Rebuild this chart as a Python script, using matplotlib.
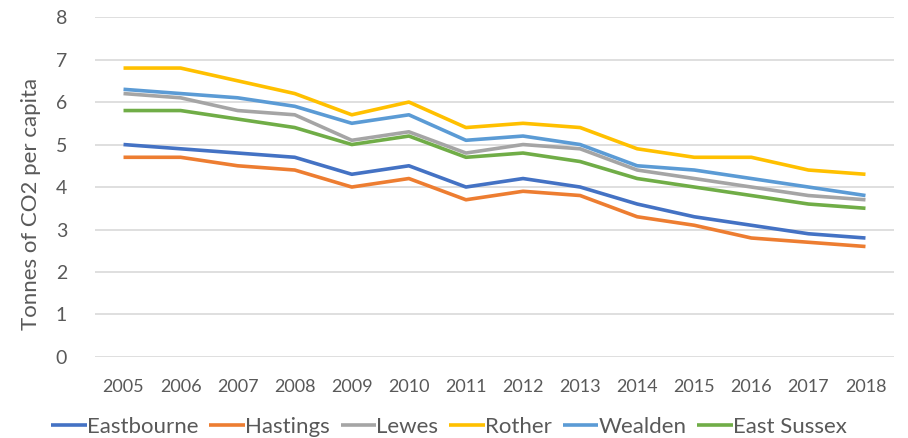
import matplotlib.pyplot as plt

years = [str(y) for y in range(2005, 2019)]

eastbourne = [5.0, 4.9, 4.8, 4.7, 4.3, 4.5, 4.0, 4.2, 4.0, 3.6, 3.3, 3.1, 2.9, 2.8]
hastings = [4.7, 4.7, 4.5, 4.4, 4.0, 4.2, 3.7, 3.9, 3.8, 3.3, 3.1, 2.8, 2.7, 2.6]
lewes = [6.2, 6.1, 5.8, 5.7, 5.1, 5.3, 4.8, 5.0, 4.9, 4.4, 4.2, 4.0, 3.8, 3.7]
rother = [6.8, 6.8, 6.5, 6.2, 5.7, 6.0, 5.4, 5.5, 5.4, 4.9, 4.7, 4.7, 4.4, 4.3]
wealden = [6.3, 6.2, 6.1, 5.9, 5.5, 5.7, 5.1, 5.2, 5.0, 4.5, 4.4, 4.2, 4.0, 3.8]
east_sussex = [5.8, 5.8, 5.6, 5.4, 5.0, 5.2, 4.7, 4.8, 4.6, 4.2, 4.0, 3.8, 3.6, 3.5]

series = [
    ("Eastbourne", eastbourne, "#4472C4"),
    ("Hastings", hastings, "#ED7D31"),
    ("Lewes", lewes, "#A5A5A5"),
    ("Rother", rother, "#FFC000"),
    ("Wealden", wealden, "#5B9BD5"),
    ("East Sussex", east_sussex, "#70AD47"),
]

plt.rcParams['font.family'] = ['Lato', 'DejaVu Sans']
text_col = "#595959"

fig = plt.figure(figsize=(9.08, 4.38), dpi=100)
ax = fig.add_axes([0.1046, 0.185, 0.88, 0.776])

x = list(range(len(years)))
for name, vals, col in series:
    ax.plot(x, vals, color=col, linewidth=2.6, label=name, solid_capstyle="butt")

ax.set_xlim(-0.5, len(years) - 0.5)
ax.set_ylim(0, 8)
ax.set_yticks(range(0, 9))
ax.set_xticks(x)
ax.set_xticklabels(years)
ax.grid(axis="y", color="#D9D9D9", linewidth=1.2)
ax.set_axisbelow(True)
for s in ax.spines.values():
    s.set_visible(False)
ax.tick_params(axis="x", length=0, labelsize=13, colors=text_col, pad=16)
ax.tick_params(axis="y", length=0, labelsize=14, colors=text_col, pad=20)
ax.set_ylabel("Tonnes of CO2 per capita", fontsize=16, color=text_col)
ax.yaxis.set_label_coords(-0.068, 0.45)

leg = ax.legend(loc="center", bbox_to_anchor=(0.443, -0.205), ncol=6, frameon=False,
                fontsize=16, handlelength=1.6, handletextpad=0.0, columnspacing=0.5,
                labelcolor=text_col, borderpad=0.1)

fig.savefig("out.png", dpi=100)
